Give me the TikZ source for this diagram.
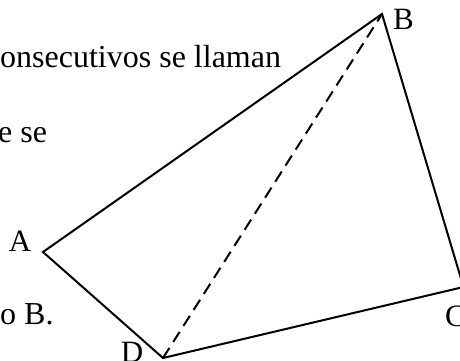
\documentclass[tikz,border=0pt]{standalone}
\usepackage{fontspec}
\setmainfont{Liberation Serif}
\begin{document}
\begin{tikzpicture}[x=1pt,y=-1pt,
  edge/.style={line width=2pt, line join=miter},
  diag/.style={line width=2pt, dash pattern=on 12pt off 7pt},
  vlabel/.style={inner sep=0pt, font=\fontsize{31}{36}\selectfont},
  bodytext/.style={inner sep=0pt, anchor=base west, font=\fontsize{32}{37}\selectfont}]
\useasboundingbox (0,0) rectangle (460,361);
\clip (0,0) rectangle (460,361);
\fill[white] (0,0) rectangle (460,361);
% vertices
\coordinate (A) at (43,252);
\coordinate (B) at (382,14);
\coordinate (C) at (463.5,287);
\coordinate (D) at (163,358);
% text fragments
\node[bodytext] (t1) at (0,67) {onsecutivos se llaman};
\node[bodytext] (t2) at (-2,142) {e se};
\node[bodytext] (t3) at (0,324) {o B.};
% labels
\node[vlabel, anchor=base] (lA) at (20,251) {A};
\node[vlabel, anchor=base west] (lB) at (393,30) {B};
\node[vlabel, anchor=base west] (lC) at (445,326) {C};
\node[vlabel, anchor=base] (lD) at (132,362) {D};
% quadrilateral
\draw[edge] (A) -- (B) -- (C) -- (D) -- cycle;
\draw[diag] (D) -- (B);
\end{tikzpicture}
\end{document}
